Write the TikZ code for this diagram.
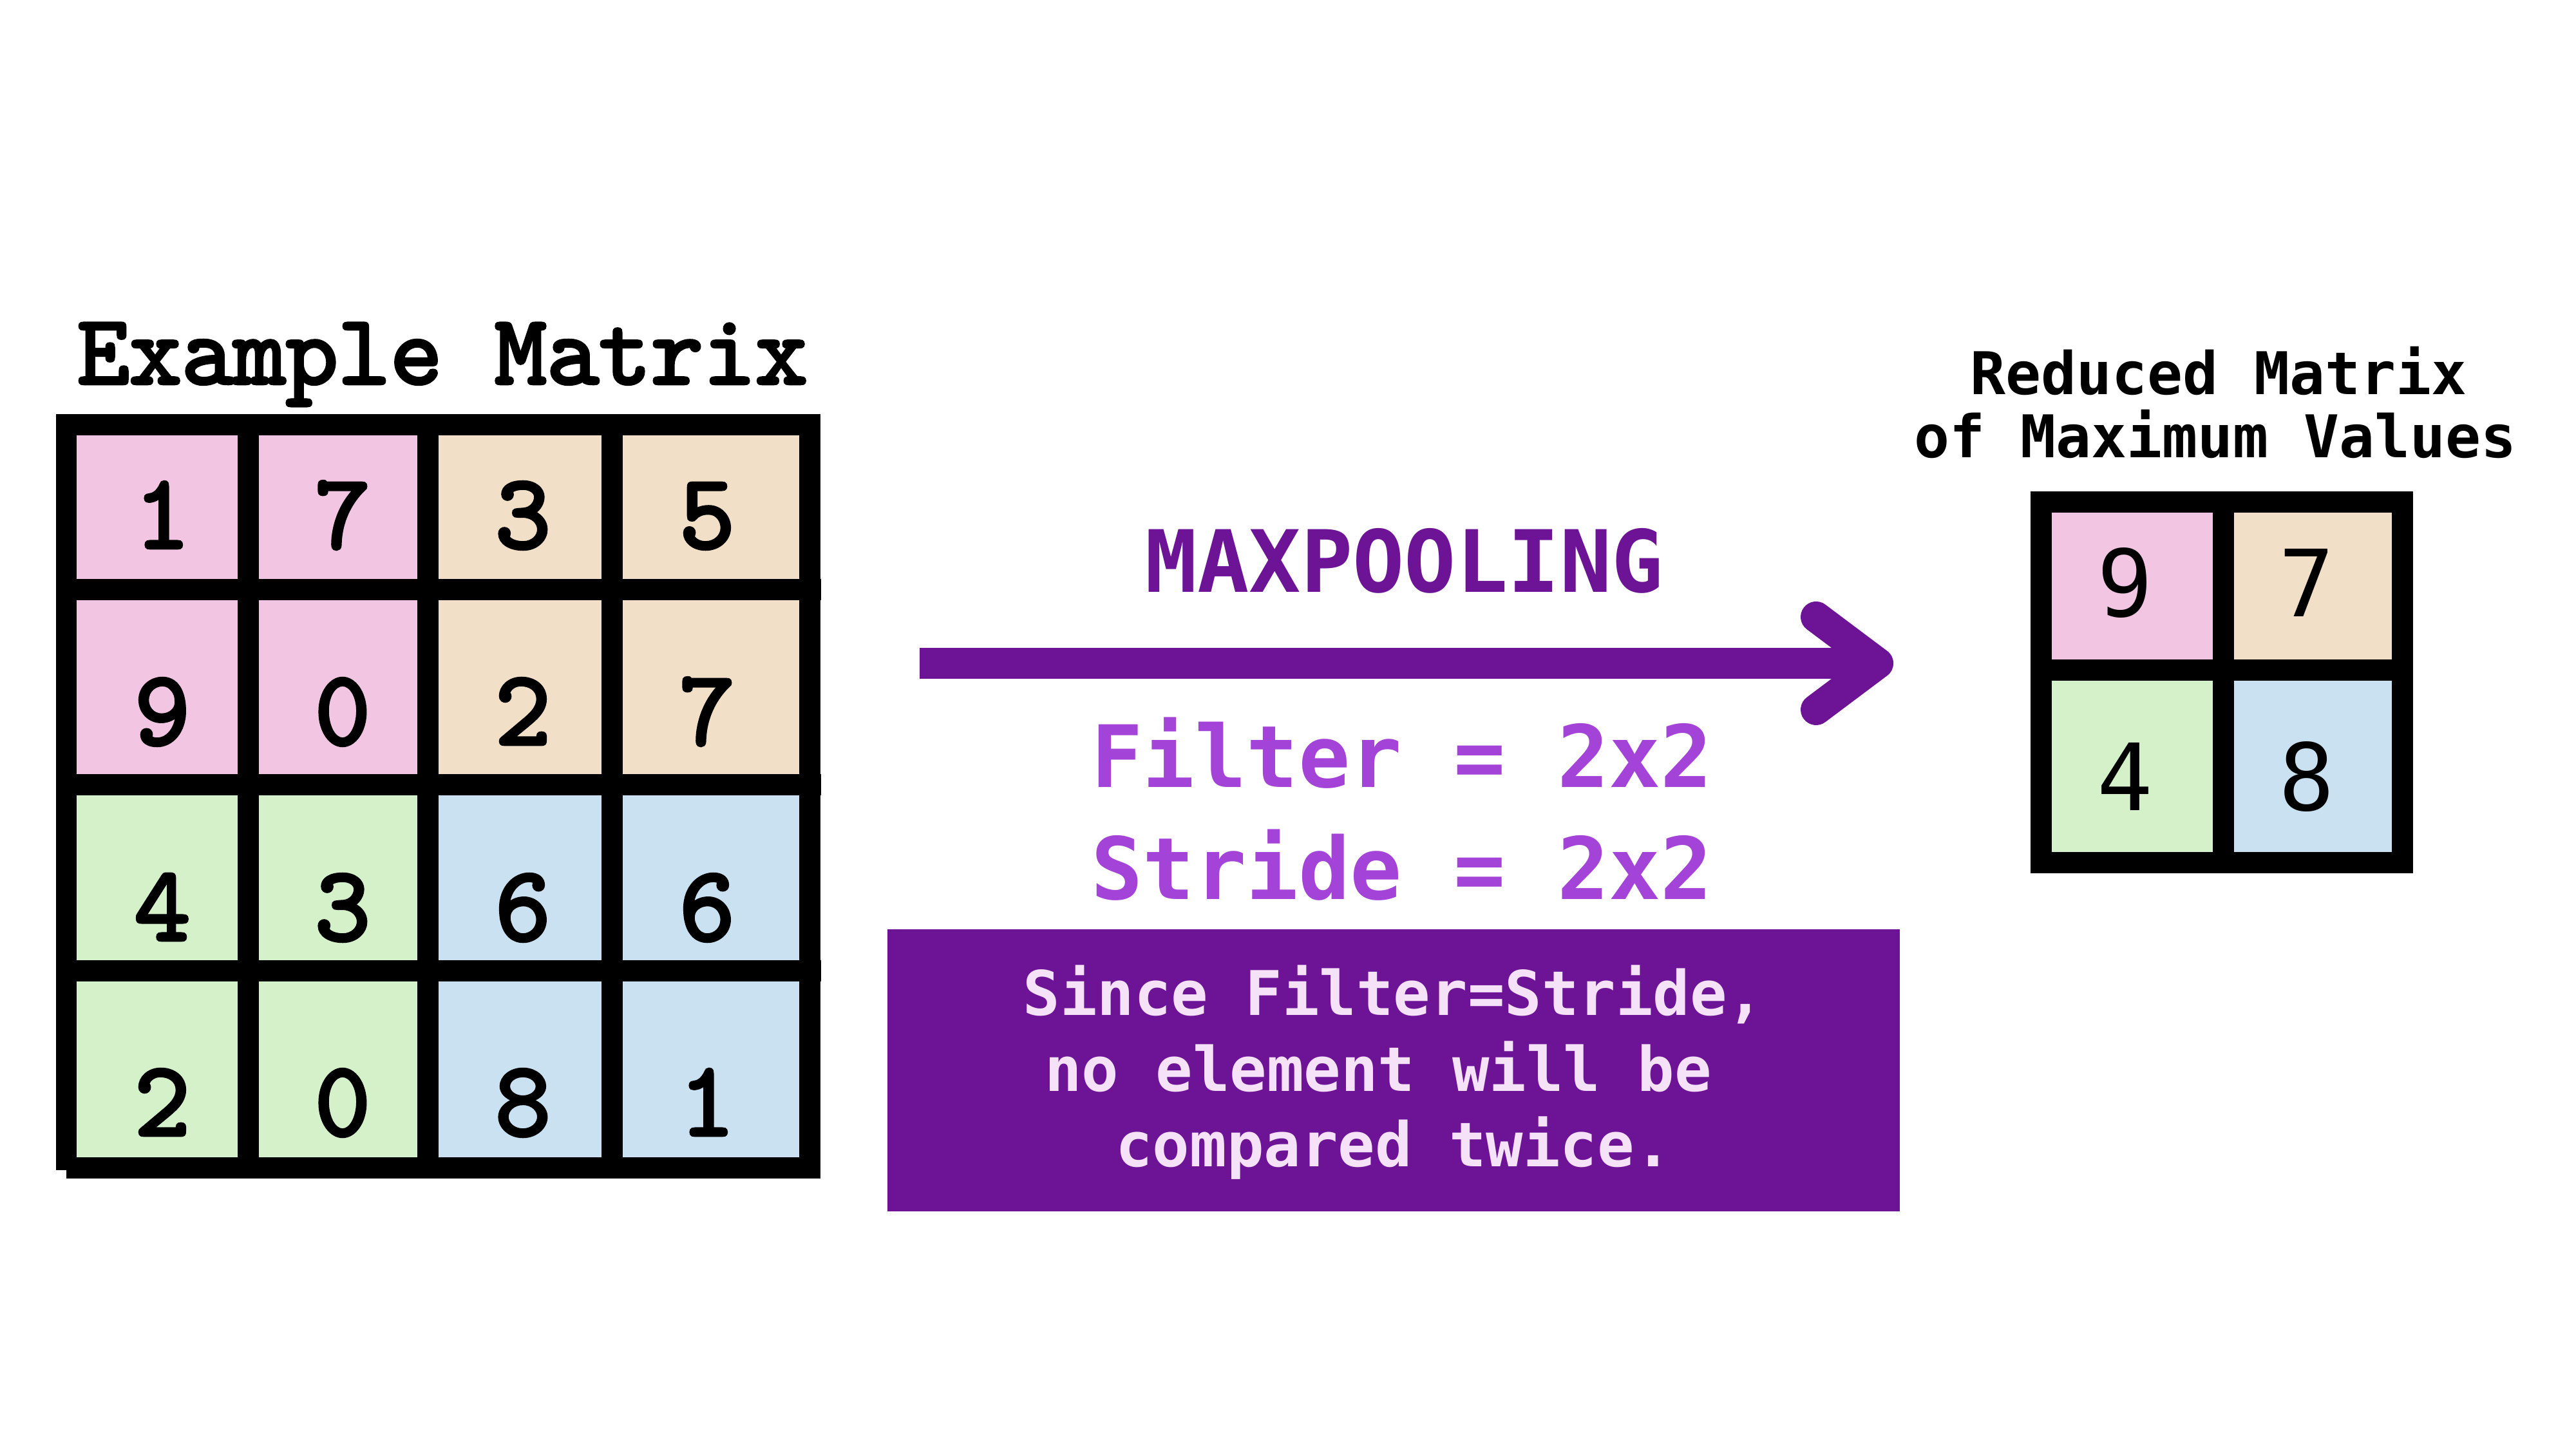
\documentclass[tikz,border=0pt]{standalone}
\usepackage{fontspec}
\usepackage{graphicx}
\newfontfamily\slabmono{lmmono10-regular.otf}[FakeBold=3]
\newfontfamily\sansmono{DejaVu Sans Mono}
\definecolor{cpink}{HTML}{F2C6E2}
\definecolor{cpeach}{HTML}{F1DFC8}
\definecolor{cgreen}{HTML}{D5F1CA}
\definecolor{cblue}{HTML}{C9E1F0}
\definecolor{dpurple}{HTML}{6C1396}
\definecolor{lpurple}{HTML}{A443D8}
\definecolor{boxtext}{HTML}{F5E1F8}
\begin{document}
\begin{tikzpicture}[x=1cm,y=1cm,
  gridline/.style={draw=black, line width=0.33cm, line join=miter, line cap=rect},
  gridseg/.style={fill=black},
  digitL/.style={font=\slabmono\fontsize{47}{47}\selectfont, inner sep=0, anchor=base, text=black},
  digitR/.style={font=\sansmono\fontsize{41}{41}\selectfont, inner sep=0, anchor=base, text=black},
  titleL/.style={font=\slabmono\fontsize{43.9}{46}\selectfont, inner sep=0, anchor=base},
  titleR/.style={font=\sansmono\bfseries\fontsize{26}{28}\selectfont, inner sep=0, anchor=base},
  bigpurple/.style={font=\sansmono\bfseries\fontsize{38}{40}\selectfont, inner sep=0, anchor=base},
  boxline/.style={font=\sansmono\bfseries\fontsize{27.2}{29}\selectfont, inner sep=0, anchor=base, text=boxtext},
  arrowline/.style={draw=dpurple, line width=0.48cm}
]
\useasboundingbox (0,0) rectangle (40,22.5);
\fill[white] (0,0) rectangle (40,22.5);

% ---------- left matrix ----------
\node[titleL] (titleL) at (6.87,16.54) {Example Matrix};
\fill[cpink]  (1.03,15.90) rectangle (6.64,10.31);
\fill[cpeach] (6.64,15.90) rectangle (12.58,10.31);
\fill[cgreen] (1.03,10.31) rectangle (6.64,4.36);
\fill[cblue]  (6.64,10.31) rectangle (12.58,4.36);
% outer frame, drawn as four bars (with the small notch at the lower left)
\fill[gridseg] (0.87,16.07) rectangle (12.74,15.74);   % top
\fill[gridseg] (0.87,16.07) rectangle (1.19,4.33);     % left
\fill[gridseg] (12.41,16.07) rectangle (12.74,4.20);   % right
\fill[gridseg] (1.03,4.53) rectangle (12.74,4.20);     % bottom
\foreach \xx in {3.85,6.64,9.50} \draw[gridline] (\xx,15.90) -- (\xx,4.36);
\foreach \yy in {13.34,10.31,7.42} \draw[gridline] (1.03,\yy) -- (12.58,\yy);

\node[digitL] (a11) at (2.52,13.99) {1};
\node[digitL] (a12) at (5.32,13.99) {7};
\node[digitL] (a13) at (8.12,13.99) {3};
\node[digitL] (a14) at (10.98,13.99) {5};
\node[digitL] (a21) at (2.52,10.94) {9};
\node[digitL] (a22) at (5.32,10.94) {0};
\node[digitL] (a23) at (8.12,10.94) {2};
\node[digitL] (a24) at (10.98,10.94) {7};
\node[digitL] (a31) at (2.52,7.90) {4};
\node[digitL] (a32) at (5.32,7.90) {3};
\node[digitL] (a33) at (8.12,7.90) {6};
\node[digitL] (a34) at (10.98,7.90) {6};
\node[digitL] (a41) at (2.52,4.87) {2};
\node[digitL] (a42) at (5.32,4.87) {0};
\node[digitL] (a43) at (8.12,4.87) {8};
\node[digitL] (a44) at (10.98,4.87) {1};

% ---------- middle ----------
\node[bigpurple, text=dpurple] (maxp) at (21.81,13.30) {MAXPOOLING};
\coordinate (arrS) at (14.28,12.20);
\coordinate (arrT) at (29.16,12.20);
\coordinate (barbU) at (28.20,12.92);
\coordinate (barbD) at (28.20,11.48);
\draw[arrowline] (arrS) -- (arrT);
\draw[arrowline, line cap=round, line join=round] (barbU) -- (arrT) -- (barbD);
\node[bigpurple, text=lpurple] (filt) at (21.77,10.27) {Filter = 2x2};
\node[bigpurple, text=lpurple] (strd) at (21.77,8.53) {Stride = 2x2};
\fill[dpurple] (13.78,8.07) rectangle (29.50,3.69);
\node[boxline] (b1) at (21.64,6.73) {Since Filter=Stride,};
\node[boxline] (b2) at (21.40,5.55) {no element will be};
\node[boxline] (b3) at (21.64,4.38) {compared twice.};

% ---------- right matrix ----------
\node[titleR] (tR1) at (34.45,16.37) {Reduced Matrix};
\node[titleR] (tR2) at (34.40,15.39) {of Maximum Values};
\fill[cpink]  (31.695,14.705) rectangle (34.52,12.09);
\fill[cpeach] (34.52,14.705) rectangle (37.305,12.09);
\fill[cgreen] (31.695,12.09) rectangle (34.52,9.105);
\fill[cblue]  (34.52,12.09) rectangle (37.305,9.105);
\draw[gridline] (31.695,14.705) rectangle (37.305,9.105);
\draw[gridline] (34.52,14.705) -- (34.52,9.105);
\draw[gridline] (31.695,12.09) -- (37.305,12.09);
\node[digitR] (r11) at (33.00,12.92) {9};
\node[digitR] (r12) at (35.82,12.92) {7};
\node[digitR] (r21) at (33.00,9.91) {4};
\node[digitR] (r22) at (35.82,9.91) {8};
\end{tikzpicture}
\end{document}
